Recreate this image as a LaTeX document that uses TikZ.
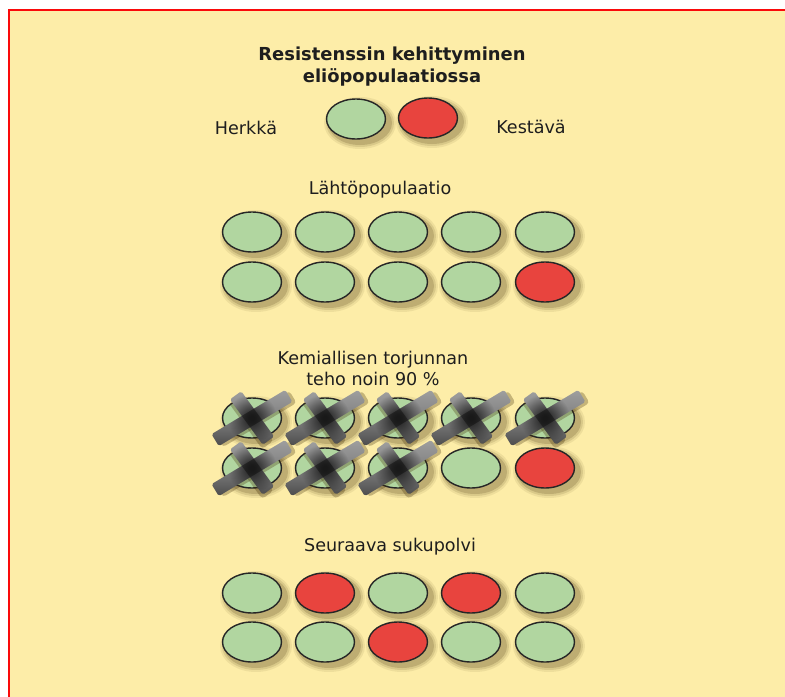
\documentclass[tikz,border=0pt]{standalone}
\usepackage{fontspec}
\setmainfont{DejaVu Sans}
\usetikzlibrary{shapes.geometric,fadings}

\definecolor{paper}{RGB}{253,237,168}
\definecolor{frame}{RGB}{250,10,10}
\definecolor{cellgreen}{RGB}{177,214,160}
\definecolor{cellred}{RGB}{232,68,62}
\definecolor{shadowc}{RGB}{70,50,10}
\definecolor{textc}{RGB}{30,30,30}

\tikzfading[name=softspot, inner color=transparent!0, outer color=transparent!100]

\tikzset{
  cell/.style={ellipse, minimum width=1.18cm, minimum height=0.8cm, inner sep=0pt,
               draw=black!85, line width=0.8pt},
  label/.style={text=textc, font=\fontsize{10}{12}\selectfont, inner sep=0pt},
  heading/.style={label, font=\fontsize{10.2}{12.5}\selectfont\bfseries, align=center},
  bar/.style={rounded corners=1pt, top color=black!38, bottom color=black!70, middle color=black!50},
  barshadow/.style={fill=shadowc, opacity=0.3, rounded corners=2pt},
}

% one organism: soft shadow, then the ellipse node
\newcommand\organism[4]{%
  \foreach \k/\o in {6/0.08,4/0.12,2/0.18}{%
    \fill[shadowc, opacity=\o] (#2+4,#3+4)
      ellipse [x radius={(30+\k)*0.02cm}, y radius={(20+\k)*0.02cm}];}
  \node[cell, fill=#4] (#1) at (#2,#3) {};
}

% a grey X laid over a named organism, darkest where the bars cross
\newcommand\xout[1]{%
  \begin{scope}[shift={(#1.center)}]
    \fill[barshadow, rotate=31]  (-40,-4) rectangle (46,10);
    \fill[barshadow, rotate=-54] (-25,-4) rectangle (31,10);
    \shade[bar, rotate=31]  (-43,-7) rectangle (43,7);
    \shade[bar, rotate=-54] (-28,-7) rectangle (28,7);
    \begin{scope}
      \clip[rotate=31] (-43,-7) rectangle (43,7);
      \fill[black!90, path fading=softspot] (0,0) circle [radius=0.5cm];
    \end{scope}
    \begin{scope}
      \clip[rotate=-54] (-28,-7) rectangle (28,7);
      \fill[black!90, path fading=softspot] (0,0) circle [radius=0.5cm];
    \end{scope}
  \end{scope}
}

\begin{document}
\begin{tikzpicture}[x=0.02cm,y=-0.02cm]
\useasboundingbox (0,0) rectangle (785,697);
\fill[white] (0,0) rectangle (785,697);
\fill[paper] (9,10) rectangle (785,697);
\draw[frame, line width=1.1pt] (9,697) -- (9,10) -- (785,10);

% heading and legend
\node[heading] (title) at (392,67) {Resistenssin kehittyminen\\eliöpopulaatiossa};
\organism{legG}{356}{119}{cellgreen}
\organism{legR}{428}{118}{cellred}
\node[label] (herkka) at (246,128) {Herkkä};
\node[label] (kestava) at (531,127) {Kestävä};

% starting population
\node[label] (start) at (380,190) {Lähtöpopulaatio};
\organism{a1}{252}{232}{cellgreen}
\organism{a2}{325}{232}{cellgreen}
\organism{a3}{398}{232}{cellgreen}
\organism{a4}{471}{232}{cellgreen}
\organism{a5}{545}{232}{cellgreen}
\organism{a6}{252}{282}{cellgreen}
\organism{a7}{325}{282}{cellgreen}
\organism{a8}{398}{282}{cellgreen}
\organism{a9}{471}{282}{cellgreen}
\organism{a10}{545}{282}{cellred}

% after chemical control
\node[label, align=center] (control) at (373,368) {Kemiallisen torjunnan\\teho noin 90 \%};
\organism{b1}{252}{418}{cellgreen}
\organism{b2}{325}{418}{cellgreen}
\organism{b3}{398}{418}{cellgreen}
\organism{b4}{471}{418}{cellgreen}
\organism{b5}{545}{418}{cellgreen}
\organism{b6}{252}{468}{cellgreen}
\organism{b7}{325}{468}{cellgreen}
\organism{b8}{398}{468}{cellgreen}
\organism{b9}{471}{468}{cellgreen}
\organism{b10}{545}{468}{cellred}
\xout{b1}\xout{b2}\xout{b3}\xout{b4}\xout{b5}
\xout{b6}\xout{b7}\xout{b8}

% next generation
\node[label] (next) at (390,547) {Seuraava sukupolvi};
\organism{c1}{252}{593}{cellgreen}
\organism{c2}{325}{593}{cellred}
\organism{c3}{398}{593}{cellgreen}
\organism{c4}{471}{593}{cellred}
\organism{c5}{545}{593}{cellgreen}
\organism{c6}{252}{642}{cellgreen}
\organism{c7}{325}{642}{cellgreen}
\organism{c8}{398}{642}{cellred}
\organism{c9}{471}{642}{cellgreen}
\organism{c10}{545}{642}{cellgreen}
\end{tikzpicture}
\end{document}
